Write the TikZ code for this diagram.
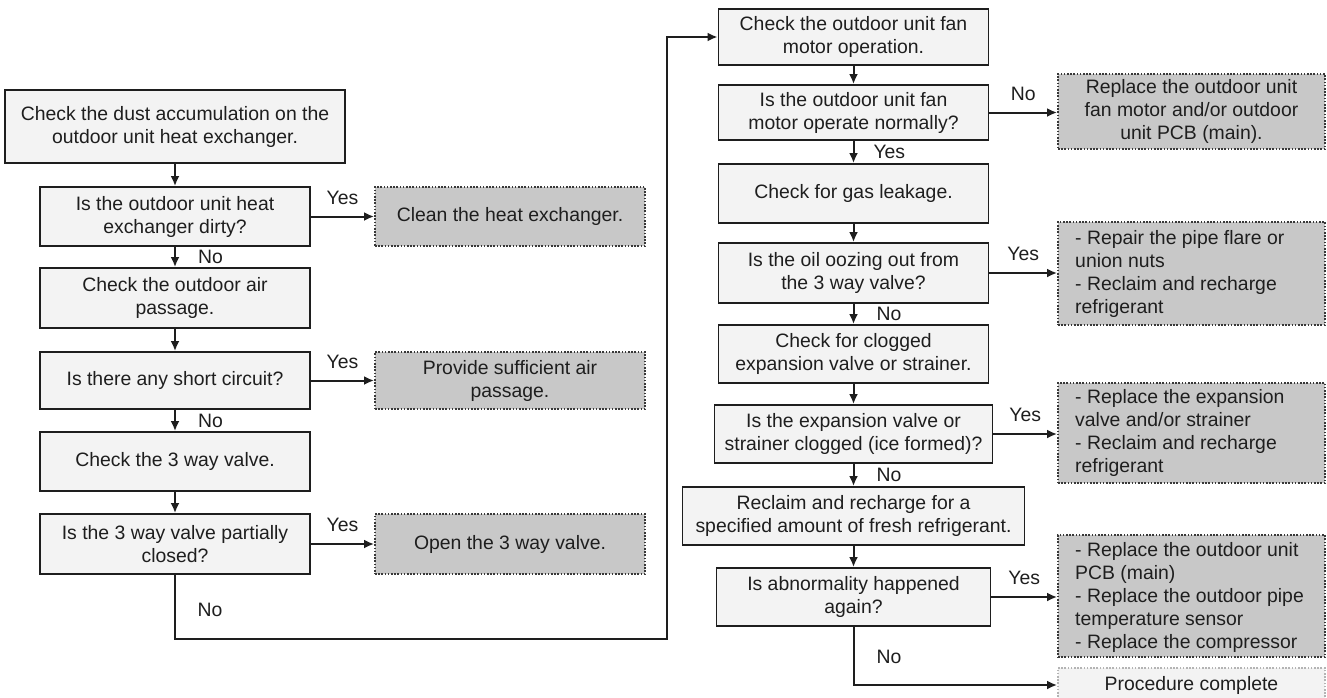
\documentclass[tikz,border=0pt]{standalone}
\usepackage{fontspec}
\setmainfont{Liberation Sans}
\usetikzlibrary{arrows.meta}
\definecolor{boxfill}{HTML}{F3F3F3}
\definecolor{resfill}{HTML}{C8C8C8}
\definecolor{lineclr}{HTML}{1E1E1E}
\definecolor{endborder}{HTML}{B4B4B4}
\begin{document}
\begin{tikzpicture}[x=1pt,y=-1pt,
  every node/.style={font=\fontsize{19.4}{23}\selectfont, text=lineclr},
  box/.style={draw=lineclr, fill=boxfill, line width=1.9pt, align=center, inner sep=0pt},
  res/.style={draw=black!78, fill=resfill, line width=1.9pt, dash pattern=on 1.6pt off 1.6pt, align=center, inner sep=0pt},
  endbox/.style={draw=endborder, fill=boxfill, line width=1.9pt, dash pattern=on 1.6pt off 1.6pt, align=center, inner sep=0pt},
  restext/.style={anchor=west, align=left, inner sep=0pt},
  arr/.style={draw=lineclr, line width=2pt, -{Latex[length=10pt,width=9pt]}},
  lbl/.style={inner sep=0pt},
]
\useasboundingbox[fill=white] (0,0) rectangle (1327,697);

% left column
\node[box, minimum width=340, minimum height=73] (b1) at (175,126.5) {Check the dust accumulation on the\\outdoor unit heat exchanger.};
\node[box, minimum width=270, minimum height=59] (b2) at (175,216.5) {Is the outdoor unit heat\\exchanger dirty?};
\node[box, minimum width=270, minimum height=60] (b3) at (175,298) {Check the outdoor air\\passage.};
\node[box, minimum width=270, minimum height=57] (b4) at (175,380.5) {Is there any short circuit?};
\node[box, minimum width=270, minimum height=59] (b5) at (175,461.5) {Check the 3 way valve.};
\node[box, minimum width=270, minimum height=60] (b6) at (175,544) {Is the 3 way valve partially\\closed?};

\node[res, minimum width=270, minimum height=59] (c1) at (510,216.5) {Clean the heat exchanger.};
\node[res, minimum width=270, minimum height=57] (c2) at (510,380.5) {Provide sufficient air\\passage.};
\node[res, minimum width=270, minimum height=60] (c3) at (510,544) {Open the 3 way valve.};

% right column
\node[box, minimum width=270, minimum height=56] (b7) at (853.5,37) {Check the outdoor unit fan\\motor operation.};
\node[box, minimum width=270, minimum height=55] (b8) at (853.5,112.5) {Is the outdoor unit fan\\motor operate normally?};
\node[box, minimum width=270, minimum height=59] (b9) at (853.5,193.5) {Check for gas leakage.};
\node[box, minimum width=270, minimum height=60] (b10) at (853.5,273) {Is the oil oozing out from\\the 3 way valve?};
\node[box, minimum width=270, minimum height=58] (b11) at (853.5,354) {Check for clogged\\expansion valve or strainer.};
\node[box, minimum width=278, minimum height=58] (b12) at (853.5,434) {Is the expansion valve or\\strainer clogged (ice formed)?};
\node[box, minimum width=342, minimum height=58] (b13) at (853.5,516) {Reclaim and recharge for a\\specified amount of fresh refrigerant.};
\node[box, minimum width=274, minimum height=58] (b14) at (853.5,597) {Is abnormality happened\\again?};

\node[res, minimum width=267, minimum height=75] (c4) at (1191.5,111.5) {Replace the outdoor unit\\fan motor and/or outdoor\\unit PCB (main).};
\node[res, minimum width=267, minimum height=103] (c5) at (1191.5,273.5) {};
\node[restext] (t5) at (1075,273.5) {- Repair the pipe flare or\\union nuts\\- Reclaim and recharge\\refrigerant};
\node[res, minimum width=267, minimum height=100] (c6) at (1191.5,433) {};
\node[restext] (t6) at (1075,433) {- Replace the expansion\\valve and/or strainer\\- Reclaim and recharge\\refrigerant};
\node[res, minimum width=267, minimum height=122] (c7) at (1191.5,596) {};
\node[restext] (t7) at (1075,597) {- Replace the outdoor unit\\PCB (main)\\- Replace the outdoor pipe\\temperature sensor\\- Replace the compressor};
\node[endbox, minimum width=267, minimum height=34] (c8) at (1191.5,685) {Procedure complete};

% left connectors
\draw[arr] (b1.south) -- (b2.north);
\draw[arr] (b2.east) -- node[lbl, above=11pt] (y1) {Yes} (c1.west);
\draw[arr] (b2.south) -- node[lbl, right=22pt] (n1) {No} (b3.north);
\draw[arr] (b3.south) -- (b4.north);
\draw[arr] (b4.east) -- node[lbl, above=11pt] (y2) {Yes} (c2.west);
\draw[arr] (b4.south) -- node[lbl, right=22pt] (n2) {No} (b5.north);
\draw[arr] (b5.south) -- (b6.north);
\draw[arr] (b6.east) -- node[lbl, above=11pt] (y3) {Yes} (c3.west);

% loop to right column
\coordinate (lpA) at (175,639);
\coordinate (lpB) at (667,639);
\draw[arr] (b6.south) -- (lpA) -- (lpB) |- (b7.west);
\node[lbl] (n3) at (210,610) {No};

% right connectors
\draw[arr] (b7.south) -- (b8.north);
\draw[arr] (b8.east) -- node[lbl, above=11pt] (n4) {No} (b8.east -| c4.west);
\draw[arr] (b8.south) -- node[lbl, right=19pt] (y4) {Yes} (b9.north);
\draw[arr] (b9.south) -- (b10.north);
\draw[arr] (b10.east) -- node[lbl, above=11pt] (y5) {Yes} (b10.east -| c5.west);
\draw[arr] (b10.south) -- node[lbl, right=22pt] (n5) {No} (b11.north);
\draw[arr] (b11.south) -- (b12.north);
\draw[arr] (b12.east) -- node[lbl, above=11pt] (y6) {Yes} (b12.east -| c6.west);
\draw[arr] (b12.south) -- node[lbl, right=22pt] (n6) {No} (b13.north);
\draw[arr] (b13.south) -- (b14.north);
\draw[arr] (b14.east) -- node[lbl, above=11pt] (y7) {Yes} (b14.east -| c7.west);
\draw[arr] (b14.south) |- (c8.west);
\node[lbl] (n7) at (889,657) {No};
\end{tikzpicture}
\end{document}
